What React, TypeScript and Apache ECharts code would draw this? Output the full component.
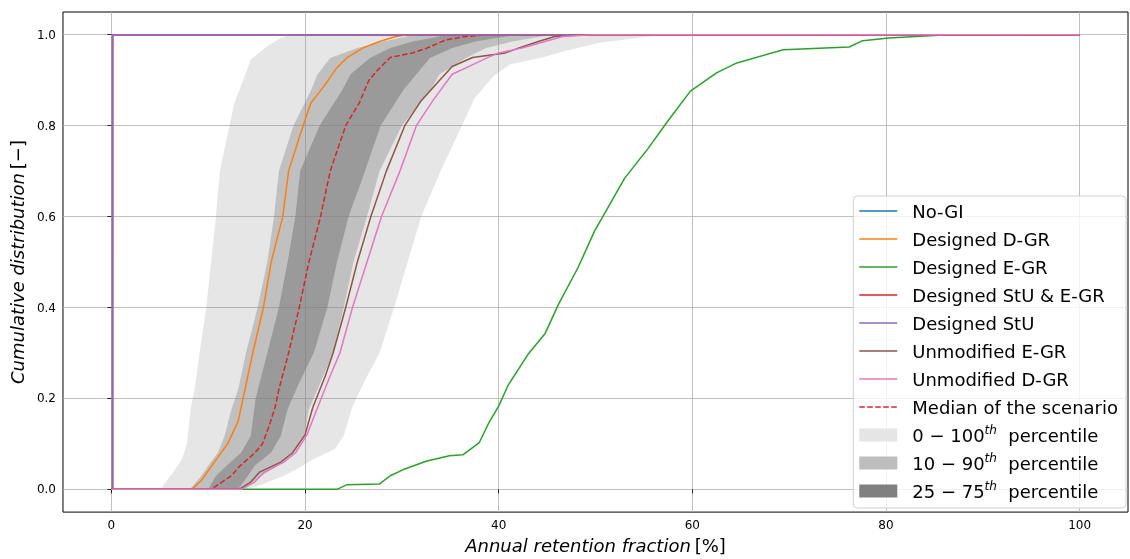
import React, { useEffect, useRef } from "react";
import * as echarts from "echarts";

// x ticks / y ticks
const xTicks = [0, 20, 40, 60, 80, 100];
const yTicks = [0, 0.2, 0.4, 0.6, 0.8, 1.0];

// CDF curves as [x (%), cumulative]
const stepAtZero = [[0, 0], [0.12, 0], [0.12, 1], [100, 1]];
const noGI = stepAtZero;
const designedStUEGR = stepAtZero;
const designedStU = stepAtZero;

const designedDGR = [
  [0, 0], [8.3, 0], [9.3, 0.02], [10.3, 0.05], [12.0, 0.1], [13.1, 0.15], [13.6, 0.2],
  [14.6, 0.3], [15.7, 0.4], [16.5, 0.5], [17.7, 0.6], [18.3, 0.7], [19.2, 0.76], [19.8, 0.8],
  [20.6, 0.85], [21.6, 0.877], [22.4, 0.9], [23.2, 0.925], [24.3, 0.949], [26.0, 0.971], [27.7, 0.985],
  [29.4, 0.996], [30.5, 1], [100, 1],
];

const designedEGR = [
  [0, 0], [23.3, 0], [24.3, 0.01], [27.7, 0.012], [28.8, 0.03], [30.1, 0.043], [32.5, 0.062],
  [34.9, 0.074], [36.3, 0.076], [38.0, 0.103], [39.0, 0.147], [40.0, 0.183], [41.0, 0.23],
  [43.1, 0.299], [44.8, 0.343], [46.2, 0.408], [48.2, 0.488], [49.9, 0.568], [51.3, 0.62],
  [53.0, 0.684], [55.4, 0.749], [57.4, 0.808], [59.8, 0.876], [62.5, 0.916], [64.6, 0.938],
  [69.4, 0.967], [76.2, 0.973], [77.6, 0.987], [80.3, 0.993], [86.4, 1], [100, 1],
];

const unmodifiedEGR = [
  [0, 0], [13.2, 0], [14.4, 0.016], [15.3, 0.038], [17.5, 0.06], [18.7, 0.08], [20.0, 0.12],
  [20.8, 0.18], [22.1, 0.25], [22.9, 0.3], [24.2, 0.4], [25.4, 0.5], [26.8, 0.6], [28.4, 0.7],
  [30.3, 0.8], [32.0, 0.855], [33.9, 0.9], [35.2, 0.93], [37.3, 0.95], [40.7, 0.96],
  [42.1, 0.971], [44.1, 0.985], [45.8, 0.996], [48.9, 1], [100, 1],
];

const unmodifiedDGR = [
  [0, 0], [13.4, 0], [14.8, 0.016], [15.8, 0.038], [17.8, 0.06], [19.0, 0.08], [20.2, 0.12],
  [21.3, 0.18], [22.6, 0.25], [23.6, 0.3], [24.9, 0.4], [26.4, 0.5], [27.9, 0.6], [29.8, 0.7],
  [31.5, 0.8], [33.2, 0.855], [35.2, 0.913], [37.0, 0.931], [38.8, 0.949], [40.0, 0.96],
  [42.4, 0.971], [44.8, 0.985], [46.6, 0.996], [49.5, 1], [100, 1],
];

const medianScenario = [
  [0, 0], [10.3, 0], [11.0, 0.01], [12.4, 0.03], [13.2, 0.05], [14.8, 0.08], [15.6, 0.1],
  [16.3, 0.14], [16.9, 0.18], [17.3, 0.22], [18.3, 0.3], [19.4, 0.4], [20.4, 0.5], [21.6, 0.6],
  [22.6, 0.7], [24.2, 0.8], [25.6, 0.85], [26.6, 0.9], [27.4, 0.92], [28.8, 0.95], [31.1, 0.96],
  [32.5, 0.97], [34.6, 0.989], [36.6, 0.996], [38.7, 1], [100, 1],
];

// percentile band edges as [x, cumulative]
const p0 = [
  [5.2, 0], [5.4, 0.01], [6.4, 0.038], [7.3, 0.067], [7.8, 0.1], [8.2, 0.18], [8.6, 0.22],
  [9.1, 0.3], [9.8, 0.4], [10.3, 0.5], [10.8, 0.6], [11.2, 0.7], [12.2, 0.8], [12.7, 0.85],
  [13.6, 0.9], [14.4, 0.945], [16.1, 0.975], [17.5, 0.993], [18.5, 1],
];
const p100 = [
  [14.0, 0], [15.5, 0.01], [17.8, 0.03], [19.2, 0.045], [20.9, 0.067], [23.1, 0.089],
  [24.0, 0.118], [24.8, 0.176], [25.4, 0.205], [26.4, 0.248], [27.7, 0.3], [29.2, 0.4],
  [30.6, 0.5], [32.0, 0.6], [34.0, 0.7], [36.2, 0.8], [37.5, 0.86], [39.5, 0.91],
  [41.2, 0.935], [44.5, 0.95], [46.8, 0.964], [50.3, 0.982], [54.3, 0.993], [57.0, 1],
];
const p10 = [
  [8.1, 0], [9.3, 0.03], [10.0, 0.052], [11.0, 0.081], [11.7, 0.118], [12.4, 0.176],
  [13.1, 0.22], [13.9, 0.3], [15.1, 0.4], [16.1, 0.5], [16.8, 0.6], [17.3, 0.7], [18.8, 0.8],
  [20.6, 0.877], [21.3, 0.913], [22.6, 0.949], [25.4, 0.971], [28.1, 0.985], [30.5, 0.996], [31.0, 1],
];
const p90 = [
  [13.7, 0], [15.5, 0.03], [17.2, 0.052], [18.8, 0.081], [19.9, 0.118], [20.4, 0.176],
  [21.3, 0.22], [22.9, 0.3], [24.0, 0.4], [25.0, 0.5], [26.4, 0.6], [27.7, 0.7], [30.0, 0.8],
  [32.9, 0.877], [33.9, 0.913], [36.6, 0.949], [38.7, 0.971], [41.4, 0.985], [44.4, 0.996], [46.0, 1],
];
const p25 = [
  [10.0, 0], [10.8, 0.03], [11.9, 0.052], [13.4, 0.081], [14.4, 0.118], [14.9, 0.2],
  [16.1, 0.3], [17.3, 0.4], [18.2, 0.5], [19.0, 0.6], [19.5, 0.7], [21.5, 0.8], [23.8, 0.877],
  [24.7, 0.913], [26.7, 0.949], [28.8, 0.971], [31.1, 0.985], [33.9, 0.996], [35.0, 1],
];
const p75 = [
  [13.1, 0], [14.1, 0.03], [14.8, 0.052], [16.5, 0.081], [17.5, 0.118], [18.2, 0.176],
  [19.3, 0.23], [20.9, 0.3], [22.3, 0.4], [23.3, 0.5], [24.5, 0.6], [26.2, 0.7], [27.8, 0.8],
  [30.1, 0.877], [31.5, 0.913], [32.9, 0.949], [35.2, 0.971], [37.6, 0.985], [40.7, 0.996], [42.0, 1],
];

const lineNames = [
  "No-GI", "Designed D-GR", "Designed E-GR", "Designed StU & E-GR",
  "Designed StU", "Unmodified E-GR", "Unmodified D-GR",
];
const lineData = [noGI, designedDGR, designedEGR, designedStUEGR, designedStU, unmodifiedEGR, unmodifiedDGR];
const lineColors = ["#1f77b4", "#ff7f0e", "#2ca02c", "#d62728", "#9467bd", "#8c564b", "#e377c2"];

const medianName = "Median of the scenario";
const bandNames = ["0−100th percentile", "10−90th percentile", "25−75th percentile"];
const bandLabels = ["0 − 100{sup|th}  percentile", "10 − 90{sup|th}  percentile", "25 − 75{sup|th}  percentile"];
const bandEdges = [[p0, p100], [p10, p90], [p25, p75]];
const bandFills = ["rgba(128,128,128,0.2)", "rgba(128,128,128,0.37)", "rgba(128,128,128,0.6)"];
const bandLegendColors = ["#e5e5e5", "#bdbdbd", "#808080"];

const solidIcon = "path://M0,0H38V1.6H0Z";
const dashedIcon =
  "path://M0,0H5.5V1.6H0Z M8,0H13.5V1.6H8Z M16,0H21.5V1.6H16Z M24,0H29.5V1.6H24Z M32,0H37.5V1.6H32Z M38,0H38V1.6H38Z";

export default function App() {
  const ref = useRef<HTMLDivElement>(null);
  useEffect(() => {
    if (!ref.current) return;
    const chart = echarts.init(ref.current, null, { renderer: "svg" });

    const bandSeries = bandEdges.map(([lo, hi], i) => {
      const poly = [...lo, ...hi.slice().reverse()];
      return {
        name: bandNames[i],
        type: "custom",
        data: [[0, 0]],
        itemStyle: { color: bandLegendColors[i] },
        silent: true,
        renderItem: (_params: any, api: any) => ({
          type: "polygon",
          shape: { points: poly.map((p) => api.coord(p)) },
          style: { fill: bandFills[i], stroke: "none" },
        }),
      };
    });

    const lines = lineNames.map((n, i) => ({
      name: n,
      type: "line",
      data: lineData[i],
      symbol: "none",
      showSymbol: false,
      color: lineColors[i],
      itemStyle: { color: lineColors[i] },
      lineStyle: { color: lineColors[i], width: 1.5 },
    }));

    const median = {
      name: medianName,
      type: "line",
      data: medianScenario,
      symbol: "none",
      showSymbol: false,
      color: "#d62728",
      itemStyle: { color: "#d62728" },
      lineStyle: { color: "#d62728", width: 1.5, type: [5.5, 2.4] },
    };

    const legendData = [
      ...lineNames.map((n) => ({ name: n, icon: solidIcon })),
      { name: medianName, icon: dashedIcon },
      ...bandNames.map((n) => ({ name: n, icon: "rect" })),
    ];

    chart.setOption({
      animation: false,
      textStyle: { fontFamily: "DejaVu Sans", color: "#000" },
      grid: {
        left: 61, right: 2, top: 12, bottom: 42,
        show: true, borderColor: "#000", borderWidth: 1, backgroundColor: "transparent",
      },
      xAxis: {
        type: "value",
        min: -5,
        max: 105,
        name: "{i|Annual retention fraction} {n|[%]}",
        nameLocation: "middle",
        nameGap: 23,
        nameTextStyle: {
          rich: {
            i: { fontSize: 18, fontStyle: "italic", fontFamily: "DejaVu Sans", color: "#000" },
            n: { fontSize: 18, fontFamily: "DejaVu Sans", color: "#000" },
          },
        },
        axisLine: { show: false },
        axisTick: { show: true, length: 4, customValues: xTicks, lineStyle: { color: "#000", width: 0.8 } },
        axisLabel: { customValues: xTicks, fontSize: 12, color: "#000", margin: 7 },
        splitLine: { show: true, lineStyle: { color: "#b0b0b0", width: 0.8 } },
      },
      yAxis: {
        type: "value",
        min: -0.05,
        max: 1.05,
        name: "{i|Cumulative distribution} {n|[−]}",
        nameLocation: "middle",
        nameGap: 30,
        nameRotate: 90,
        nameTextStyle: {
          rich: {
            i: { fontSize: 18, fontStyle: "italic", fontFamily: "DejaVu Sans", color: "#000" },
            n: { fontSize: 18, fontFamily: "DejaVu Sans", color: "#000" },
          },
        },
        axisLine: { show: false },
        axisTick: { show: true, length: 4, customValues: yTicks, lineStyle: { color: "#000", width: 0.8 } },
        axisLabel: {
          customValues: yTicks, fontSize: 12, color: "#000", margin: 7,
          formatter: (v: number) => v.toFixed(1),
        },
        splitLine: { show: true, lineStyle: { color: "#b0b0b0", width: 0.8 } },
      },
      legend: {
        orient: "vertical",
        right: 4,
        top: 196,
        data: legendData,
        itemWidth: 38,
        itemHeight: 13,
        itemGap: 6,
        padding: [4, 8, 6, 6],
        backgroundColor: "rgba(255,255,255,0.8)",
        borderColor: "#d0d0d0",
        borderWidth: 1,
        borderRadius: 4,
        selectedMode: false,
        formatter: (name: string) => {
          const k = bandNames.indexOf(name);
          return k >= 0 ? bandLabels[k] : name;
        },
        textStyle: {
          fontSize: 18,
          fontFamily: "DejaVu Sans",
          color: "#000",
          lineHeight: 22,
          padding: [0, 0, 0, 10],
          rich: {
            sup: { fontSize: 12, fontStyle: "italic", fontFamily: "DejaVu Sans", color: "#000", verticalAlign: "top", lineHeight: 22 },
          },
        },
      },
      series: [...bandSeries, median, ...lines],
    });
    return () => chart.dispose();
  }, []);
  return <div ref={ref} style={{ position: "fixed", left: 0, top: 0, width: 1130, height: 559 }} />;
}
